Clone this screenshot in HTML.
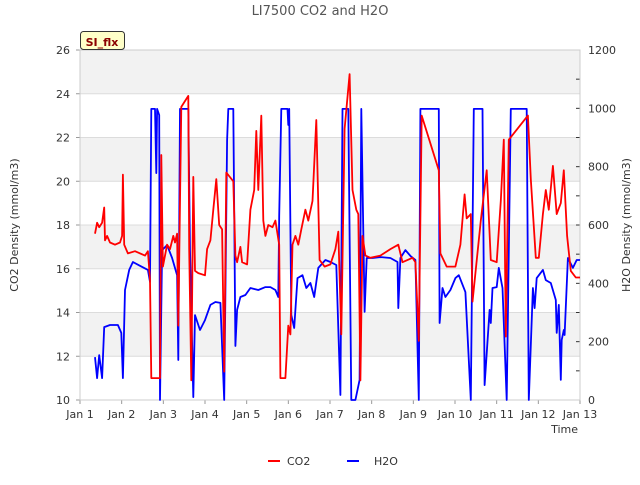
<!DOCTYPE html>
<html><head><meta charset="utf-8"><style>
body{margin:0;background:#fff;font-family:"Liberation Sans","DejaVu Sans",sans-serif}
</style></head><body>
<svg id="chart" width="640" height="480" xmlns="http://www.w3.org/2000/svg" font-family="DejaVu Sans, Liberation Sans, sans-serif">
<text x="320" y="15" text-anchor="middle" font-size="13" fill="#555">LI7500 CO2 and H2O</text>
<g id="bands"></g>
<g id="grid"></g>
<g id="axes"></g>
<g id="series"></g>
<rect x="80.5" y="31.5" width="44" height="18" rx="3" fill="#ffffc8" stroke="#333"/>
<text x="102" y="46" text-anchor="middle" font-size="11" font-weight="bold" fill="#8b0000">SI_flx</text>
<text transform="translate(18,225) rotate(-90)" text-anchor="middle" font-size="11" fill="#333">CO2 Density (mmol/m3)</text>
<text transform="translate(630,225) rotate(-90)" text-anchor="middle" font-size="11" fill="#333">H2O Density (mmol/m3)</text>
<text x="578" y="433" text-anchor="end" font-size="11" fill="#333">Time</text>
<g>
<line x1="268" y1="461" x2="280" y2="461" stroke="#f00" stroke-width="2"/>
<text x="287" y="465" font-size="11" fill="#333">CO2</text>
<line x1="347" y1="461" x2="359" y2="461" stroke="#00f" stroke-width="2"/>
<text x="374" y="465" font-size="11" fill="#333">H2O</text>
</g>
</svg>
<script>
const xTickLabels=["Jan 1","Jan 2","Jan 3","Jan 4","Jan 5","Jan 6","Jan 7","Jan 8","Jan 9","Jan 10","Jan 11","Jan 12","Jan 13"];
const leftTicks=[10,12,14,16,18,20,22,24,26];
const rightTicks=[0,200,400,600,800,1000,1200];
const co2Days=[0.36,0.41,0.46,0.53,0.58,0.6,0.65,0.72,0.84,0.96,1.01,1.03,1.06,1.15,1.32,1.56,1.63,1.68,1.71,1.92,1.95,1.99,2.09,2.16,2.24,2.28,2.33,2.36,2.43,2.6,2.62,2.67,2.72,2.76,2.84,3.0,3.05,3.13,3.2,3.27,3.34,3.41,3.46,3.51,3.68,3.73,3.77,3.85,3.89,4.01,4.09,4.18,4.23,4.28,4.35,4.4,4.45,4.52,4.62,4.69,4.78,4.81,4.93,5.0,5.05,5.1,5.17,5.24,5.31,5.41,5.48,5.58,5.67,5.75,5.87,6.01,6.13,6.2,6.27,6.35,6.47,6.54,6.63,6.68,6.73,6.78,6.85,6.97,7.21,7.45,7.64,7.74,7.98,8.05,8.13,8.2,8.61,8.65,8.8,9.01,9.13,9.23,9.28,9.38,9.42,9.62,9.76,9.86,10.0,10.1,10.17,10.22,10.29,10.75,10.82,10.94,11.01,11.11,11.18,11.25,11.35,11.44,11.54,11.61,11.69,11.78,11.9,12.0];
const co2Values=[17.6,18.1,17.9,18.1,18.8,17.3,17.5,17.2,17.1,17.2,17.5,20.3,17.1,16.7,16.8,16.6,16.8,15.5,11.0,11.0,21.2,16.1,17.1,16.9,17.5,17.2,17.6,13.4,23.4,23.9,16.9,10.9,20.2,15.9,15.8,15.7,16.9,17.3,18.7,20.1,18.0,17.8,11.3,20.4,20.0,16.6,16.3,17.0,16.3,16.2,18.7,19.6,22.3,19.6,23.0,18.2,17.5,18.0,17.9,18.2,17.1,11.0,11.0,13.4,13.0,17.1,17.5,17.1,17.8,18.7,18.2,19.1,22.8,16.4,16.1,16.2,16.9,17.7,13.0,22.4,24.9,19.6,18.7,18.5,10.9,17.5,16.6,16.5,16.6,16.9,17.1,16.3,16.5,16.3,12.7,23.0,20.5,16.7,16.1,16.1,17.1,19.4,18.3,18.5,14.5,18.2,20.5,16.4,16.3,19.1,21.9,12.9,21.9,23.0,20.1,16.5,16.5,18.5,19.6,18.7,20.7,18.5,19.0,20.5,17.5,15.9,15.6,15.6];
const h2oDays=[0.36,0.41,0.46,0.53,0.58,0.72,0.91,0.99,1.03,1.08,1.18,1.27,1.44,1.63,1.68,1.71,1.8,1.83,1.85,1.9,1.92,1.97,2.09,2.21,2.33,2.36,2.4,2.6,2.64,2.72,2.76,2.88,3.0,3.13,3.25,3.37,3.46,3.53,3.56,3.68,3.73,3.77,3.85,3.97,4.09,4.28,4.45,4.57,4.69,4.76,4.78,4.83,4.98,5.0,5.02,5.07,5.14,5.22,5.34,5.43,5.53,5.62,5.72,5.89,6.01,6.15,6.25,6.3,6.44,6.51,6.61,6.71,6.75,6.83,6.88,7.02,7.21,7.45,7.62,7.64,7.69,7.81,7.93,8.05,8.13,8.17,8.61,8.63,8.7,8.77,8.89,9.01,9.09,9.25,9.38,9.45,9.66,9.71,9.83,9.86,9.9,10.0,10.05,10.14,10.24,10.34,10.72,10.77,10.87,10.91,10.96,11.11,11.18,11.3,11.42,11.44,11.49,11.54,11.56,11.61,11.63,11.71,11.83,11.92,12.0];
const h2oValues=[147,75,154,75,250,257,257,230,75,377,446,473,460,446,405,998,998,778,998,977,0,514,531,487,428,137,998,998,514,10,291,240,274,326,336,333,0,891,998,998,185,309,353,360,384,377,387,387,377,353,634,998,998,943,998,291,247,418,428,384,401,353,453,480,473,463,17,998,998,0,0,69,998,302,487,487,490,487,473,315,487,514,494,480,0,998,998,264,384,353,377,418,428,370,0,998,998,51,309,264,384,387,453,384,0,998,998,0,384,315,418,446,411,401,343,230,326,69,206,240,223,487,453,480,480];

const NS="http://www.w3.org/2000/svg";
const L=80,R=580,T=50,B=400;
const xs=d=>L+d*(R-L)/12;
const yL=v=>B-(v-10)*(B-T)/16;
const yR=v=>B-v*(B-T)/1200;
function mk(tag,attrs,parent){const e=document.createElementNS(NS,tag);for(const k in attrs)e.setAttribute(k,attrs[k]);parent.appendChild(e);return e;}
const bands=document.getElementById('bands'),grid=document.getElementById('grid'),axes=document.getElementById('axes'),series=document.getElementById('series');
mk('rect',{x:L,y:T,width:R-L,height:B-T,fill:'#fff'},bands);
for(let i=0;i<leftTicks.length-1;i++){
  if(i%2===1){const r=mk('rect',{x:L,y:yL(leftTicks[i+1]),width:R-L,height:yL(leftTicks[i])-yL(leftTicks[i+1]),fill:'#f2f2f2'},bands);
  
  }
}
leftTicks.forEach(v=>{
  const g=mk('line',{x1:L,x2:R,y1:yL(v),y2:yL(v),stroke:'#dcdcdc','stroke-width':1},grid);
  
  
  const t=mk('text',{x:L-10,y:yL(v)+4,'text-anchor':'end','font-size':11,fill:'#333'},axes);
  t.textContent=v;
  
  
  mk('line',{x1:L-4,x2:L,y1:yL(v),y2:yL(v),stroke:'#999'},axes);
});
rightTicks.forEach(v=>{
  const t=mk('text',{x:R+8,y:yR(v)+4,'font-size':11,fill:'#333'},axes);
  t.textContent=v;
  
  
  mk('line',{x1:R-4,x2:R,y1:yR(v),y2:yR(v),stroke:'#333'},axes);
  if(v<1200){mk('line',{x1:R-4,x2:R,y1:yR(v+100),y2:yR(v+100),stroke:'#333'},axes);}
});
xTickLabels.forEach((s,i)=>{
  const t=mk('text',{x:xs(i),y:418,'text-anchor':'middle','font-size':11,fill:'#333'},axes);
  t.textContent=s;
  
  
  mk('line',{x1:xs(i),x2:xs(i),y1:B,y2:B+4,stroke:'#999'},axes);
});
mk('rect',{x:L,y:T,width:R-L,height:B-T,fill:'none',stroke:'#ccc'},axes);
const h=mk('polyline',{points:h2oDays.map((d,i)=>xs(d).toFixed(1)+','+yR(h2oValues[i]).toFixed(1)).join(' '),fill:'none',stroke:'#00f','stroke-width':1.8,'stroke-linejoin':'round'},series);


const c=mk('polyline',{points:co2Days.map((d,i)=>xs(d).toFixed(1)+','+yL(co2Values[i]).toFixed(1)).join(' '),fill:'none',stroke:'#f00','stroke-width':1.8,'stroke-linejoin':'round'},series);


</script>
</body></html>
